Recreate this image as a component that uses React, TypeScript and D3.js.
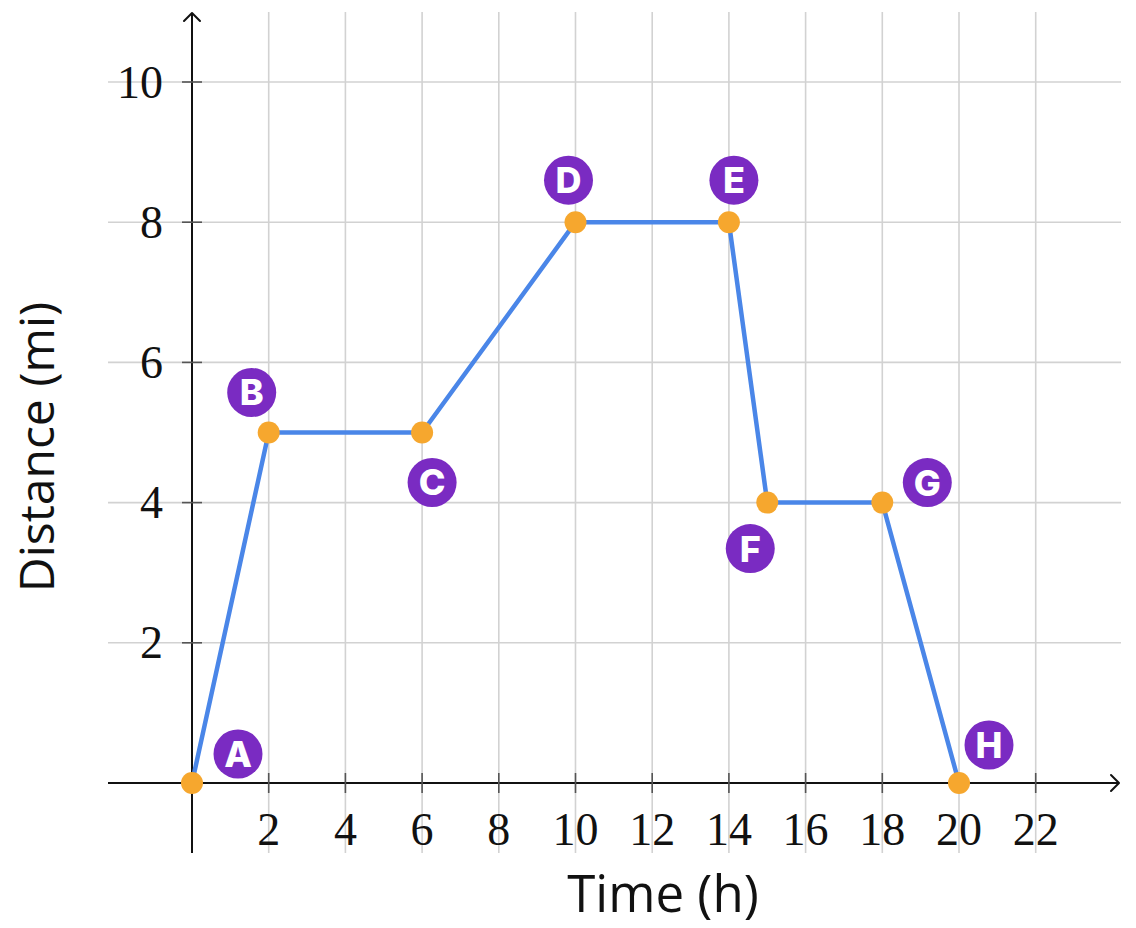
import React, { useEffect, useRef } from "react";
import * as d3 from "d3";

const pointLabels = ["A", "B", "C", "D", "E", "F", "G", "H"];
const timeValues = [0, 2, 6, 10, 14, 15, 18, 20];
const distanceValues = [0, 5, 5, 8, 8, 4, 4, 0];
const xTickValues = [2, 4, 6, 8, 10, 12, 14, 16, 18, 20, 22];
const yTickValues = [2, 4, 6, 8, 10];
// label badge offsets in pixels (layout only)
const badgeDx = [46, -17, 10, -7, 5, -17, 45, 30];
const badgeDy = [-29, -40, 50, -42, -42, 46, -20, -38];

const W = 1136;
const H = 928;

export default function App() {
  const ref = useRef<SVGSVGElement | null>(null);

  useEffect(() => {
    const svg = d3.select(ref.current);
    svg.selectAll("*").remove();

    const x = d3.scaleLinear().domain([0, 20]).range([192, 959]);
    const y = d3.scaleLinear().domain([0, 10]).range([783, 82]);

    const gridLeft = 108;
    const gridRight = 1121;
    const gridTop = 12;
    const gridBottom = 853;

    // grid
    const grid = svg.append("g").attr("stroke", "#d2d2d2").attr("stroke-width", 1.6);
    grid
      .selectAll("line.v")
      .data(xTickValues)
      .join("line")
      .attr("x1", (d) => x(d))
      .attr("x2", (d) => x(d))
      .attr("y1", gridTop)
      .attr("y2", gridBottom);
    grid
      .selectAll("line.h")
      .data(yTickValues)
      .join("line")
      .attr("class", "h")
      .attr("x1", gridLeft)
      .attr("x2", gridRight)
      .attr("y1", (d) => y(d))
      .attr("y2", (d) => y(d));

    // axes
    const axes = svg.append("g").attr("stroke", "#111").attr("stroke-width", 2).attr("fill", "none");
    axes.append("line").attr("x1", gridLeft).attr("x2", 1119).attr("y1", y(0)).attr("y2", y(0));
    axes.append("line").attr("x1", x(0)).attr("x2", x(0)).attr("y1", gridBottom).attr("y2", 13);
    axes
      .append("path")
      .attr("d", `M${1111},${y(0) - 8} L${1119},${y(0)} L${1111},${y(0) + 8}`)
      .attr("stroke-linecap", "round")
      .attr("stroke-linejoin", "round");
    axes
      .append("path")
      .attr("d", `M${x(0) - 8},${21} L${x(0)},${13} L${x(0) + 8},${21}`)
      .attr("stroke-linecap", "round")
      .attr("stroke-linejoin", "round");

    // ticks
    const ticks = svg.append("g").attr("stroke", "#555").attr("stroke-width", 1.6);
    ticks
      .selectAll("line.xt")
      .data(xTickValues)
      .join("line")
      .attr("x1", (d) => x(d))
      .attr("x2", (d) => x(d))
      .attr("y1", y(0) - 10)
      .attr("y2", y(0) + 10);
    ticks
      .selectAll("line.yt")
      .data(yTickValues)
      .join("line")
      .attr("class", "yt")
      .attr("x1", x(0) - 10)
      .attr("x2", x(0) + 10)
      .attr("y1", (d) => y(d))
      .attr("y2", (d) => y(d));

    // tick labels
    const tickFont = "'Liberation Serif', 'Times New Roman', serif";
    svg
      .append("g")
      .selectAll("text")
      .data(xTickValues)
      .join("text")
      .attr("x", (d) => x(d))
      .attr("y", 845)
      .attr("text-anchor", "middle")
      .attr("font-family", tickFont)
      .attr("font-size", 46)
      .attr("fill", "#111")
      .text((d) => String(d));
    svg
      .append("g")
      .selectAll("text")
      .data(yTickValues)
      .join("text")
      .attr("x", 163)
      .attr("y", (d) => y(d))
      .attr("dy", "0.34em")
      .attr("text-anchor", "end")
      .attr("font-family", tickFont)
      .attr("font-size", 46)
      .attr("fill", "#111")
      .text((d) => String(d));

    // axis titles
    const titleFont = "'Open Sans', 'Noto Sans', sans-serif";
    svg
      .append("text")
      .attr("x", 663)
      .attr("y", 912)
      .attr("text-anchor", "middle")
      .attr("font-family", titleFont)
      .attr("font-size", 51)
      .attr("fill", "#111")
      .text("Time (h)");
    svg
      .append("text")
      .attr("transform", `translate(54,447) rotate(-90)`)
      .attr("text-anchor", "middle")
      .attr("font-family", titleFont)
      .attr("font-size", 48)
      .attr("fill", "#111")
      .text("Distance (mi)");

    const data = timeValues.map((t, i) => ({
      t,
      d: distanceValues[i],
      label: pointLabels[i],
      dx: badgeDx[i],
      dy: badgeDy[i],
    }));

    // line
    const line = d3
      .line<{ t: number; d: number }>()
      .x((p) => x(p.t))
      .y((p) => y(p.d));
    svg
      .append("path")
      .datum(data)
      .attr("d", line)
      .attr("fill", "none")
      .attr("stroke", "#4a86e8")
      .attr("stroke-width", 4.5)
      .attr("stroke-linejoin", "round");

    // points
    svg
      .append("g")
      .selectAll("circle")
      .data(data)
      .join("circle")
      .attr("cx", (p) => x(p.t))
      .attr("cy", (p) => y(p.d))
      .attr("r", 11)
      .attr("fill", "#f6a72e");

    // badges
    const badges = svg
      .append("g")
      .selectAll("g")
      .data(data)
      .join("g")
      .attr("transform", (p) => `translate(${x(p.t) + p.dx},${y(p.d) + p.dy})`);
    badges.append("circle").attr("r", 24.5).attr("fill", "#7a2bc2");
    badges
      .append("text")
      .attr("text-anchor", "middle")
      .attr("dy", "0.36em")
      .attr("font-family", "Inter, 'Open Sans', sans-serif")
      .attr("font-weight", 800)
      .attr("font-size", 36)
      .attr("fill", "#fff")
      .text((p) => p.label);
  }, []);

  return (
    <svg
      ref={ref}
      width={W}
      height={H}
      viewBox={`0 0 ${W} ${H}`}
      style={{ position: "absolute", left: 0, top: 0, background: "#fff" }}
    />
  );
}
